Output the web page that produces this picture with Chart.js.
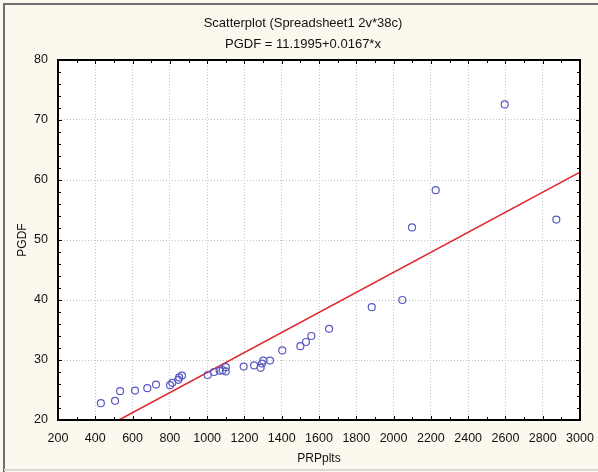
<!DOCTYPE html>
<html>
<head>
<meta charset="utf-8">
<script src="https://cdn.jsdelivr.net/npm/chart.js@4.4.1/dist/chart.umd.min.js"></script>
<style>
  html, body { margin: 0; padding: 0; background: #fbf9ee; }
  #canvas { display: block; }
</style>
</head>
<body>
<canvas id="canvas" width="598" height="472"></canvas>
<script>
// values
const prpPlts = [430, 506, 533, 613, 679, 726, 801, 813, 845, 850, 865,
  1003, 1037, 1067, 1083, 1100, 1100, 1196, 1252, 1287, 1294, 1301, 1337,
  1403, 1500, 1530, 1559, 1654, 1883, 2047, 2099, 2226, 2596, 2873];
const pgdf = [22.8, 23.2, 24.8, 24.9, 25.3, 25.9, 25.8, 26.2, 26.7, 27.1, 27.4,
  27.5, 28.0, 28.2, 28.3, 28.1, 28.8, 28.9, 29.1, 28.7, 29.4, 29.9, 29.9,
  31.6, 32.3, 33.0, 34.0, 35.2, 38.8, 40.0, 52.1, 58.3, 72.6, 53.4];
// fitted line end points (PGDF = 11.1995+0.0167*x)
const fitX = [527, 3000];
const fitY = [20, 61.3];
const titleLines = ['Scatterplot (Spreadsheet1 2v*38c)', 'PGDF = 11.1995+0.0167*x'];

window.addEventListener('load', setup);

function setup() {
  const ctx = document.getElementById('canvas').getContext('2d');

  const points = prpPlts.map((x, i) => ({ x: x, y: pgdf[i] }));
  const fit = fitX.map((x, i) => ({ x: x, y: fitY[i] }));
  const fontFamily = 'Liberation Sans, Arial, sans-serif';

  const frame = {
    id: 'frame',
    beforeDraw(chart) {
      const c = chart.ctx;
      const a = chart.chartArea;
      c.save();
      c.fillStyle = '#fbf9ee';
      c.fillRect(0, 0, chart.width, chart.height);
      c.strokeStyle = '#707070';
      c.lineWidth = 2;
      c.beginPath();
      c.moveTo(4, chart.height);
      c.lineTo(4, 4);
      c.lineTo(chart.width, 4);
      c.stroke();
      c.strokeStyle = '#d8d8d0';
      c.beginPath();
      c.moveTo(4, chart.height - 2);
      c.lineTo(chart.width, chart.height - 2);
      c.stroke();
      c.fillStyle = '#ffffff';
      c.fillRect(a.left, a.top, a.right - a.left, a.bottom - a.top);
      c.restore();
    },
    afterDraw(chart) {
      const c = chart.ctx;
      const a = chart.chartArea;
      const xs = chart.scales.x;
      const ys = chart.scales.y;
      c.save();
      c.strokeStyle = '#000000';
      c.lineWidth = 1;
      c.beginPath();
      for (let v = 200; v <= 3000; v += 100) {
        const px = Math.round(xs.getPixelForValue(v)) + 0.5;
        const len = v % 200 === 0 ? 4 : 3;
        c.moveTo(px, a.bottom); c.lineTo(px, a.bottom - len);
        c.moveTo(px, a.top); c.lineTo(px, a.top + len);
      }
      for (let v = 20; v <= 80; v += 2) {
        const py = Math.round(ys.getPixelForValue(v)) + 0.5;
        const len = v % 10 === 0 ? 4 : 3;
        c.moveTo(a.left, py); c.lineTo(a.left + len, py);
        c.moveTo(a.right, py); c.lineTo(a.right - len, py);
      }
      c.stroke();
      c.lineWidth = 2;
      c.strokeRect(a.left, a.top, a.right - a.left, a.bottom - a.top);
      c.restore();
    }
  };

  const myChart = new Chart(ctx, {
    type: 'scatter',
    data: {
      datasets: [
        {
          label: 'PGDF',
          data: points,
          showLine: false,
          pointStyle: 'circle',
          pointRadius: 3.5,
          pointBorderWidth: 1.2,
          pointBorderColor: '#5a5ac4',
          pointBackgroundColor: 'rgba(0,0,0,0)',
          order: 1
        },
        {
          label: 'fit',
          type: 'line',
          data: fit,
          borderColor: '#e0262c',
          borderWidth: 1.5,
          pointRadius: 0,
          fill: false,
          order: 2
        }
      ]
    },
    options: {
      responsive: false,
      animation: false,
      layout: { padding: { left: 8, right: 0, top: 0, bottom: 0 } },
      plugins: {
        legend: { display: false },
        tooltip: { enabled: false },
        title: {
          display: true,
          text: titleLines,
          color: '#111111',
          font: { family: fontFamily, size: 13, weight: 'normal', lineHeight: 21 / 13 },
          padding: { top: 12.5, bottom: 5.5 }
        }
      },
      scales: {
        x: {
          type: 'linear',
          min: 200,
          max: 3000,
          afterFit(scale) { scale.height = 52; scale.paddingRight = 18; },
          ticks: {
            stepSize: 200,
            padding: 11,
            color: '#111111',
            maxRotation: 0,
            font: { family: fontFamily, size: 12.5 },
            callback: (v) => String(v)
          },
          grid: { color: '#c4c4c4', drawTicks: false },
          border: { display: false, dash: [1, 2] },
          title: {
            display: true,
            text: 'PRPplts',
            color: '#111111',
            font: { family: fontFamily, size: 12 },
            padding: { top: 0, bottom: 6 }
          }
        },
        y: {
          type: 'linear',
          min: 20,
          max: 80,
          afterFit(scale) { scale.width = 50; },
          ticks: {
            stepSize: 10,
            padding: 10,
            color: '#111111',
            font: { family: fontFamily, size: 12.5 },
            callback: (v) => String(v)
          },
          grid: { color: '#c4c4c4', drawTicks: false },
          border: { display: false, dash: [1, 2] },
          title: {
            display: true,
            text: 'PGDF',
            color: '#111111',
            font: { family: fontFamily, size: 12 },
            padding: { top: 7, bottom: 0 }
          }
        }
      }
    },
    plugins: [frame]
  });
}
</script>
</body>
</html>
